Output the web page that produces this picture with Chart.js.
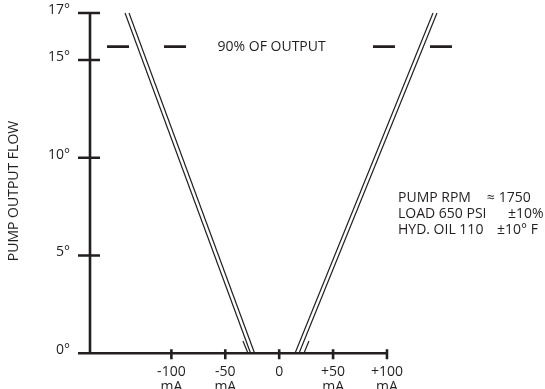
<!DOCTYPE html>
<html>
<head>
<meta charset="utf-8">
<script src="https://cdn.jsdelivr.net/npm/chart.js@4.4.0/dist/chart.umd.min.js"></script>
<style>
  html, body { margin: 0; padding: 0; background: #fff; }
</style>
</head>
<body>
<canvas id="flow" width="545" height="389"></canvas>
<script>
// Pump output flow vs control current (mA)
const xTicks = [-100, -50, 0, 50, 100];
const xTickLabels = [['-100', 'mA'], ['-50', 'mA'], ['0'], ['+50', 'mA'], ['+100', 'mA']];
const yTicks = [0, 5, 10, 15, 17.4];
const yTickLabels = ['0°', '5°', '10°', '15°', '17°'];
const xRange = [-175.5, 246.6];
const yRange = [0, 17.4];

// double lines of the V  [mA, degrees]
const leftOuter = [[-143.0, 17.4], [-26.5, 0]];
const leftInner = [[-139.3, 17.4], [-22.8, 0]];
const leftHatch = [[-33.6, 0.63], [-28.9, 0]];
const rightInner = [[142.7, 17.4], [14.7, 0]];
const rightOuter = [[146.4, 17.4], [18.4, 0]];
const rightHatch = [[27.6, 0.63], [23.0, 0]];

// 90% of output reference
const ninetyLeft = [[-159.7, 15.68], [-85.5, 15.68]];
const ninetyRight = [[87.0, 15.68], [160.3, 15.68]];
const ninetyLabel = '90% OF OUTPUT';

const notes = [
  ['PUMP RPM', '≈ 1750'],
  ['LOAD 650 PSI', '±10%'],
  ['HYD. OIL 110', '±10° F']
];

const ink = '#231f20';
const font = '14px "Open Sans"';

function pts(arr) {
  return arr.map(p => ({ x: p[0], y: p[1] }));
}

function thin(arr) {
  return { data: pts(arr), borderColor: ink, borderWidth: 1.2, pointRadius: 0, fill: false, clip: false };
}

function dashed(arr) {
  return { data: pts(arr), borderColor: ink, borderWidth: 2.6, borderDash: [22, 35], pointRadius: 0, fill: false, clip: false };
}

const axisPlugin = {
  id: 'axisPlugin',
  afterDatasetsDraw(chart) {
    const { ctx, scales: { x, y } } = chart;
    const x0 = x.getPixelForValue(xRange[0]);
    const y0 = y.getPixelForValue(0);
    ctx.save();
    ctx.strokeStyle = ink;
    ctx.lineWidth = 2.6;
    ctx.beginPath();
    ctx.moveTo(x0, y.getPixelForValue(yRange[1]));
    ctx.lineTo(x0, y0);
    ctx.lineTo(x.getPixelForValue(xTicks[xTicks.length - 1]) + 1, y0);
    yTicks.forEach(v => {
      const py = y.getPixelForValue(v);
      ctx.moveTo(x0 - 12, py);
      ctx.lineTo(x0 + 10, py);
    });
    xTicks.forEach(v => {
      const px = x.getPixelForValue(v);
      ctx.moveTo(px, y0 - 4);
      ctx.lineTo(px, y0 + 6);
    });
    ctx.stroke();

    ctx.fillStyle = ink;
    ctx.font = font;
    ctx.textAlign = 'right';
    ctx.textBaseline = 'middle';
    yTicks.forEach((v, i) => ctx.fillText(yTickLabels[i], 70, y.getPixelForValue(v) - 3));

    ctx.textAlign = 'center';
    xTicks.forEach((v, i) => {
      const px = x.getPixelForValue(v);
      xTickLabels[i].forEach((line, j) => ctx.fillText(line, px, 372 + j * 15));
    });

    ctx.fillText(ninetyLabel, x.getPixelForValue(-7), y.getPixelForValue(ninetyLeft[0][1]));

    // axis title
    ctx.save();
    ctx.translate(14, 191);
    ctx.rotate(-Math.PI / 2);
    ctx.fillText('PUMP OUTPUT FLOW', 0, 0);
    ctx.restore();

    // operating conditions
    ctx.textAlign = 'left';
    ctx.textBaseline = 'alphabetic';
    const valueX = [487, 508, 497];
    notes.forEach((n, i) => {
      const by = 202 + i * 16;
      ctx.fillText(n[0], 398, by);
      ctx.fillText(n[1], valueX[i], by);
    });
    ctx.restore();
  }
};

new Chart(document.getElementById('flow'), {
  type: 'line',
  data: {
    datasets: [
      thin(leftOuter), thin(leftInner), thin(leftHatch),
      thin(rightInner), thin(rightOuter), thin(rightHatch),
      dashed(ninetyLeft), dashed(ninetyRight)
    ]
  },
  options: {
    responsive: false,
    animation: false,
    layout: { padding: { left: 90, right: 0, top: 13, bottom: 35.7 } },
    plugins: { legend: { display: false }, tooltip: { enabled: false } },
    scales: {
      x: { type: 'linear', display: false, min: xRange[0], max: xRange[1] },
      y: { type: 'linear', display: false, min: yRange[0], max: yRange[1] }
    }
  },
  plugins: [axisPlugin]
});
</script>
</body>
</html>
